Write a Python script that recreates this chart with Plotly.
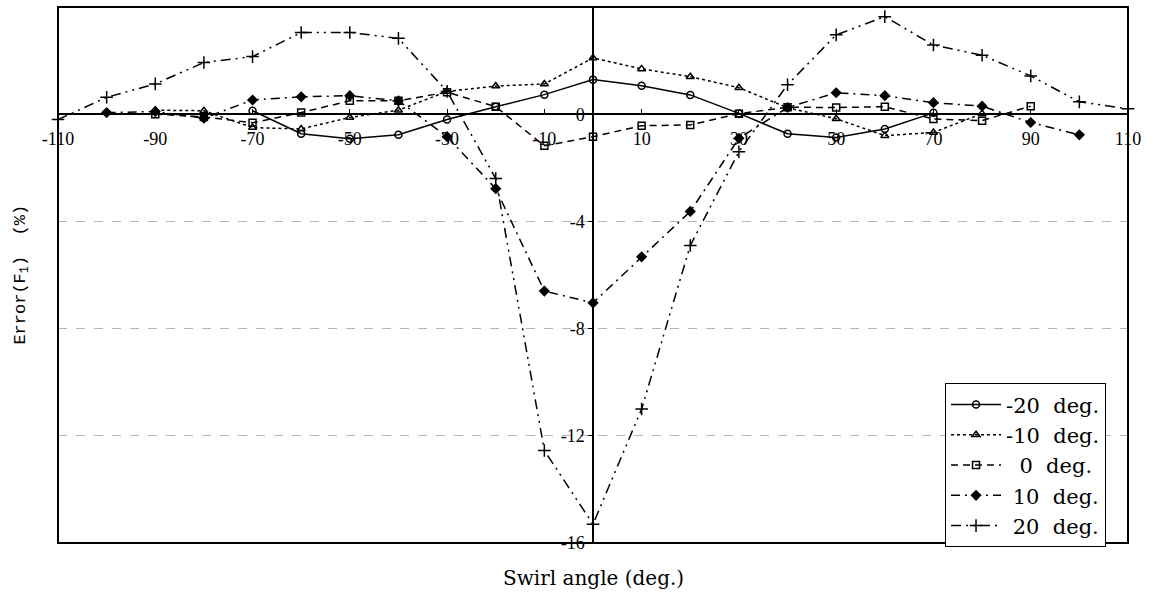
import plotly.graph_objects as go

# Swirl angle (deg.)
x_m20 = [-70, -60, -50, -40, -30, -20, -10, 0, 10, 20, 30, 40, 50, 60, 70]
y_m20 = [0.13, -0.73, -0.92, -0.77, -0.2, 0.28, 0.73, 1.29, 1.06, 0.72, 0.03, -0.73, -0.87, -0.55, 0.05]

x_m10 = [-90, -80, -70, -60, -50, -40, -30, -20, -10, 0, 10, 20, 30, 40, 50, 60, 70, 80]
y_m10 = [0.15, 0.13, -0.5, -0.55, -0.12, 0.15, 0.85, 1.05, 1.13, 2.1, 1.69, 1.4, 0.99, 0.24, -0.17, -0.8, -0.68, 0.02]

x_0 = [-90, -80, -70, -60, -50, -40, -30, -20, -10, 0, 10, 20, 30, 40, 50, 60, 70, 80, 90]
y_0 = [0.0, -0.1, -0.32, 0.06, 0.5, 0.5, 0.82, 0.28, -1.18, -0.84, -0.43, -0.4, 0.02, 0.26, 0.25, 0.28, -0.18, -0.24, 0.3]

x_p10 = [-100, -90, -80, -70, -60, -50, -40, -30, -20, -10, 0, 10, 20, 30, 40, 50, 60, 70, 80, 90, 100]
y_p10 = [0.06, 0.1, -0.15, 0.53, 0.65, 0.69, 0.5, -0.84, -2.78, -6.6, -7.04, -5.32, -3.63, -0.9, 0.25, 0.8, 0.69, 0.43, 0.3, -0.31, -0.77]

x_p20 = [-110, -100, -90, -80, -70, -60, -50, -40, -30, -20, -10, 0, 10, 20, 30, 40, 50, 60, 70, 80, 90, 100, 110]
y_p20 = [-0.2, 0.63, 1.13, 1.93, 2.15, 3.05, 3.05, 2.83, 0.85, -2.4, -12.55, -15.3, -11.0, -4.9, -1.4, 1.1, 2.96, 3.64, 2.58, 2.2, 1.43, 0.46, 0.2]

series_names = ["-20  deg.", "-10  deg.", "  0  deg.", " 10  deg.", " 20  deg."]

x_tickvals = [-110, -90, -70, -50, -30, -10, 10, 30, 50, 70, 90, 110]
x_ticktext = ["-110", "-90", "-70", "-50", "-30", "-10", "10", "30", "50", "70", "90", "110"]
y_tickvals = [4, 0, -4, -8, -12, -16]
y_ticktext = ["4", "0", "-4", "-8", "-12", "-16"]

SERIF = "Liberation Serif"
WIDE_SERIF = "DejaVu Serif"

fig = go.Figure()
styles = [
    (x_m20, y_m20, "solid", "circle-open", 7),
    (x_m10, y_m10, "dot", "triangle-up-open", 7),
    (x_0, y_0, "7px,5px", "square-open", 7),
    (x_p10, y_p10, "9px,5px,2px,5px", "diamond", 7),
    (x_p20, y_p20, "10px,5px,2px,5px,2px,5px", "cross-thin-open", 9),
]
for (xs, ys, dash, sym, sz), name in zip(styles, series_names):
    fig.add_trace(go.Scatter(
        x=xs, y=ys, name=name, mode="lines+markers",
        line=dict(color="black", width=1.5, dash=dash),
        marker=dict(symbol=sym, size=sz, color="black",
                    line=dict(color="black", width=1.5)),
        cliponaxis=False,
    ))

fig.update_layout(
    width=1159, height=597,
    margin=dict(l=58, r=31, t=7, b=54),
    paper_bgcolor="white", plot_bgcolor="white",
    font=dict(family=SERIF, size=18, color="black"),
    showlegend=True,
    legend=dict(
        x=0.829, y=0.298, xanchor="left", yanchor="top",
        bordercolor="black", borderwidth=1, bgcolor="white",
        font=dict(family=WIDE_SERIF, size=21, color="black"),
        tracegroupgap=0, itemwidth=50,
    ),
    xaxis=dict(
        range=[-110, 110], anchor="free", position=0.8,
        showline=True, linecolor="black", linewidth=1.5,
        showgrid=False, zeroline=False,
        tickvals=x_tickvals, ticktext=x_ticktext,
        ticks="inside", ticklen=4, tickcolor="black",
        ticklabelstandoff=8,
        tickfont=dict(family=SERIF, size=18),
    ),
    yaxis=dict(
        range=[-16, 4], anchor="free", position=0.5,
        showline=True, linecolor="black", linewidth=1.5,
        showgrid=True, gridcolor="#b4b4b4", griddash="dash", gridwidth=1,
        zeroline=False,
        tickvals=y_tickvals, ticktext=y_ticktext,
        ticks="outside", ticklen=4, tickcolor="black",
        tickfont=dict(family=SERIF, size=18),
    ),
    shapes=[dict(type="rect", xref="paper", yref="paper", x0=0, y0=0, x1=1, y1=1,
                 line=dict(color="black", width=2), layer="above")],
    annotations=[
        dict(text="Swirl angle (deg.)", xref="paper", yref="paper", x=0.5, y=-0.065,
             showarrow=False, font=dict(family=WIDE_SERIF, size=20), xanchor="center", yanchor="middle"),
        dict(text="Error(F<sub>1</sub>)  (%)", xref="paper", yref="paper", x=-0.034, y=0.5,
             showarrow=False, textangle=-90, font=dict(family="Liberation Mono", size=17),
             xanchor="center", yanchor="middle"),
    ],
)

fig.write_html("out.html", config={"displayModeBar": False},
               post_script="document.body.style.margin='0';")
